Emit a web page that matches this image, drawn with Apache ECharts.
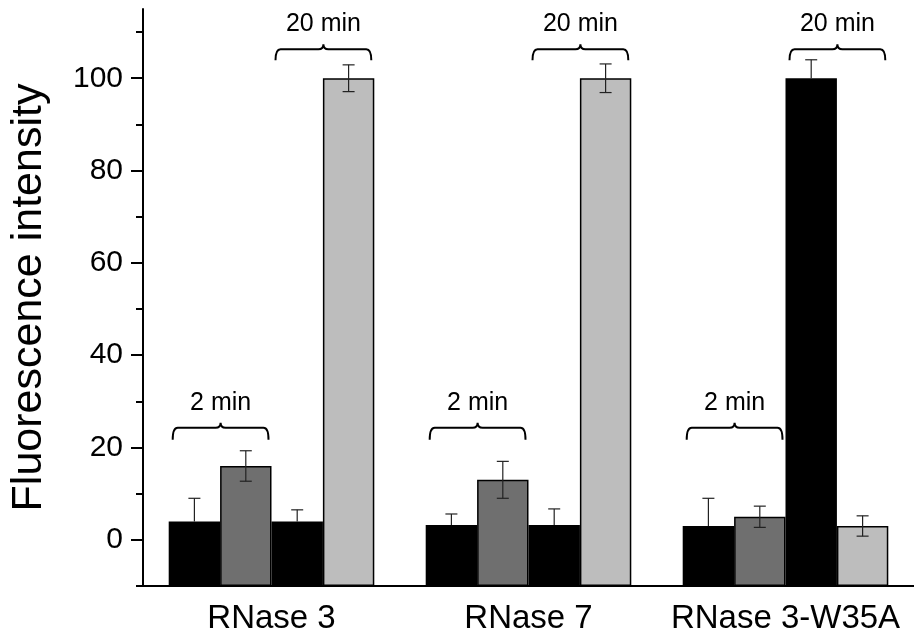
<!DOCTYPE html>
<html>
<head>
<meta charset="utf-8">
<script src="https://cdn.jsdelivr.net/npm/echarts@6/dist/echarts.min.js"></script>
<style>html,body{margin:0;padding:0;background:#fff}#c{width:914px;height:643px}</style>
</head>
<body>
<div id="c"></div>
<script>
const categories = ['RNase 3', 'RNase 7', 'RNase 3-W35A'];
const bar1 = [4, 3.2, 3];
const err1 = [5, 2.4, 6];
const bar2 = [16, 13, 5];
const err2 = [3.3, 4, 2.3];
const bar3 = [4, 3.2, 100];
const err3 = [2.5, 3.5, 4];
const bar4 = [100, 100, 3];
const err4 = [2.9, 3.1, 2.2];
const yMin = -10, yMax = 115;
const yMajorTicks = [0, 20, 40, 60, 80, 100];
const yMinorTicks = [-10, 10, 30, 50, 70, 90, 110];
// brackets: [category index, first bar, last bar, top value, end value, label value, text]
const brackets = [
  [0, 0, 1, 24.3, 21.7, 29.6, '2 min'],
  [0, 2, 3, 106.3, 103.9, 111.7, '20 min'],
  [1, 0, 1, 24.3, 21.7, 29.6, '2 min'],
  [1, 2, 3, 106.3, 103.9, 111.7, '20 min'],
  [2, 0, 1, 24.3, 21.7, 29.6, '2 min'],
  [2, 2, 3, 106.3, 103.9, 111.7, '20 min']
];

const FONT = 'Liberation Sans, Arial, sans-serif';
const barColors = ['#000000', '#6f6f6f', '#000000', '#bdbdbd'];
const upperOnly = [true, false, true, false];
const bars = [bar1, bar2, bar3, bar4];
const errs = [err1, err2, err3, err4];
const NB = 4, GAPFRAC = 0.8;

function errRender(s) {
  return function (params, api) {
    const ci = api.value(0), v = api.value(1), e = api.value(2);
    const c = api.coord([ci, v]);
    const band = api.size([1, 0])[0];
    const bw = band * GAPFRAC / NB;
    const x = c[0] + (s - (NB - 1) / 2) * bw;
    const yHi = api.coord([ci, v + e])[1];
    const yLo = upperOnly[s] ? c[1] : api.coord([ci, v - e])[1];
    const cap = 6;
    const st = { stroke: '#222', lineWidth: 1.2 };
    const ch = [
      { type: 'line', shape: { x1: x, y1: yHi, x2: x, y2: yLo }, style: st },
      { type: 'line', shape: { x1: x - cap, y1: yHi, x2: x + cap, y2: yHi }, style: st }
    ];
    if (!upperOnly[s]) ch.push({ type: 'line', shape: { x1: x - cap, y1: yLo, x2: x + cap, y2: yLo }, style: st });
    return { type: 'group', children: ch };
  };
}

function bracketRender(params, api) {
  const ci = api.value(0), a = api.value(1), b = api.value(2);
  const vTop = api.value(3), vEnd = api.value(4), vText = api.value(5);
  const item = brackets[params.dataIndex];
  const c = api.coord([ci, vTop]);
  const band = api.size([1, 0])[0];
  const bw = band * GAPFRAC / NB;
  const left0 = c[0] - NB / 2 * bw;
  const x0 = left0 + a * bw + 4;
  const x1 = left0 + (b + 1) * bw - 3;
  const xm = (x0 + x1) / 2;
  const yT = c[1];
  const yE = api.coord([ci, vEnd])[1];
  const yTx = api.coord([ci, vText])[1];
  const r = 5, pk = 5;
  const d = 'M' + x0 + ' ' + yE +
    ' Q' + x0 + ' ' + yT + ' ' + (x0 + r) + ' ' + yT +
    ' L' + (xm - r) + ' ' + yT +
    ' Q' + xm + ' ' + yT + ' ' + xm + ' ' + (yT - pk) +
    ' Q' + xm + ' ' + yT + ' ' + (xm + r) + ' ' + yT +
    ' L' + (x1 - r) + ' ' + yT +
    ' Q' + x1 + ' ' + yT + ' ' + x1 + ' ' + yE;
  return {
    type: 'group',
    children: [
      { type: 'path', shape: { pathData: d }, style: { fill: null, stroke: '#000', lineWidth: 2 } },
      { type: 'text', style: { text: item[6], x: xm, y: yTx, align: 'center', verticalAlign: 'middle', font: '25px ' + FONT, fill: '#000' } }
    ]
  };
}

const series = [];
// bars rise from the bottom of the value axis (yMin): transparent base + visible segment in one stack
bars.forEach((d, i) => {
  series.push({
    type: 'bar', stack: 's' + i, stackStrategy: 'all', data: d.map(() => yMin),
    barGap: 0, barCategoryGap: '20%',
    itemStyle: { color: 'rgba(0,0,0,0)', borderWidth: 0 },
    silent: true, animation: false
  });
  series.push({
    type: 'bar', stack: 's' + i, stackStrategy: 'all', data: d.map(v => v - yMin),
    barGap: 0, barCategoryGap: '20%',
    itemStyle: { color: barColors[i], borderColor: '#000', borderWidth: 1.5 },
    silent: true, animation: false
  });
});
bars.forEach((d, i) => {
  series.push({
    type: 'custom', renderItem: errRender(i), z: 5, animation: false, silent: true,
    encode: { x: 0, y: 1 },
    data: d.map((v, k) => [k, v, errs[i][k]])
  });
});
series.push({
  type: 'custom', renderItem: bracketRender, z: 6, animation: false, silent: true,
  encode: { x: 0, y: 3 },
  data: brackets.map(b => b.slice(0, 6))
});

const chart = echarts.init(document.getElementById('c'), null, { renderer: 'canvas' });
chart.setOption({
  backgroundColor: '#fff',
  animation: false,
  grid: { left: 142, right: -2, top: 9, bottom: 57, containLabel: false },
  xAxis: [
    {
      type: 'category', data: categories, position: 'bottom',
      axisLine: { onZero: false, lineStyle: { color: '#000', width: 2 } },
      axisTick: { alignWithLabel: true, length: 10, lineStyle: { color: '#000', width: 2 } },
      axisLabel: { interval: 0, color: '#000', fontSize: 33, fontFamily: FONT, margin: 16 }
    },
    {
      type: 'category', data: categories, position: 'bottom', offset: 0,
      axisLine: { show: false, onZero: false },
      axisTick: { alignWithLabel: false, interval: 0, length: 6, lineStyle: { color: '#000', width: 2 } },
      axisLabel: { show: false }
    }
  ],
  yAxis: [
    {
      type: 'value', min: yMin, max: yMax,
      name: 'Fluorescence intensity', nameLocation: 'middle', nameGap: 92,
      nameTextStyle: { color: '#000', fontSize: 43, fontFamily: FONT },
      splitLine: { show: false },
      axisLine: { show: true, lineStyle: { color: '#000', width: 2 } },
      axisTick: { show: true, length: 12, customValues: yMajorTicks, lineStyle: { color: '#000', width: 2 } },
      axisLabel: { color: '#000', fontSize: 30, fontFamily: FONT, margin: 20, customValues: yMajorTicks }
    },
    {
      type: 'value', min: yMin, max: yMax, position: 'left', offset: 0,
      splitLine: { show: false },
      axisLine: { show: false },
      axisTick: { show: true, length: 7, customValues: yMinorTicks, lineStyle: { color: '#000', width: 2 } },
      axisLabel: { show: false }
    }
  ],
  series: series
});
</script>
</body>
</html>
